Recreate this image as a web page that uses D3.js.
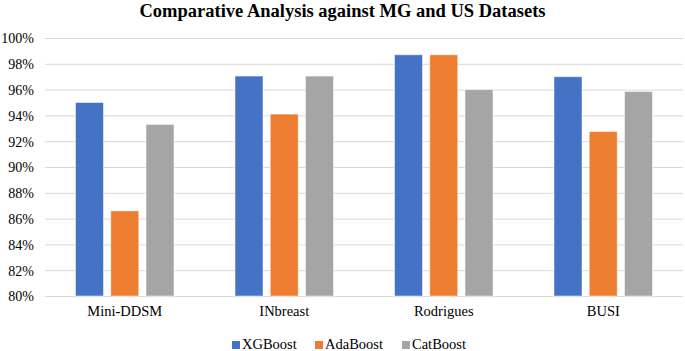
<!DOCTYPE html>
<html><head><meta charset="utf-8">
<script src="https://cdn.jsdelivr.net/npm/d3@7"></script>
<style>body{margin:0;background:#fff;} svg{display:block;}</style>
</head><body><svg id="c" width="685" height="351"></svg>
<script>
const categories = ["Mini-DDSM", "INbreast", "Rodrigues", "BUSI"];
const seriesNames = ["XGBoost", "AdaBoost", "CatBoost"];
const xgboost = [95.0, 97.05, 98.7, 97.0];
const adaboost = [86.6, 94.1, 98.7, 92.75];
const catboost = [93.3, 97.05, 96.0, 95.85];
const yTicks = [80, 82, 84, 86, 88, 90, 92, 94, 96, 98, 100];
const colors = ["#4472C4", "#ED7D31", "#A5A5A5"];
const title = "Comparative Analysis against MG and US Datasets";

(function () {
const seriesValues = [xgboost, adaboost, catboost];
const svg = d3.select("#c");
const font = "'Liberation Serif','Times New Roman',serif";
const pLeft = 45, pRight = 683, pTop = 38, pBottom = 296;

const x0 = d3.scaleBand().domain(categories).range([pLeft, pRight]);
const x1 = d3.scaleBand().domain(seriesNames).range([30.5, x0.bandwidth() - 30.5]).paddingInner(0.206);
const y = d3.scaleLinear().domain([80, 100]).range([pBottom, pTop]);

svg.append("g").selectAll("line").data(yTicks).join("line")
  .attr("x1", pLeft).attr("x2", pRight)
  .attr("y1", d => y(d) + 0.5).attr("y2", d => y(d) + 0.5)
  .attr("stroke", "#D9D9D9").attr("stroke-width", 1);

const yAxis = d3.axisLeft(y).tickValues(yTicks).tickSize(0).tickPadding(0)
  .tickFormat(d => d + "%");
const ga = svg.append("g").attr("transform", `translate(${pLeft - 11},0)`).call(yAxis);
ga.select(".domain").remove();
ga.selectAll("text").attr("font-family", font).attr("font-size", 14).attr("fill", "#000").attr("dy", "0.35em");

const groups = svg.append("g").selectAll("g").data(categories).join("g")
  .attr("transform", d => `translate(${x0(d)},0)`);
groups.selectAll("rect").data((c, i) => seriesNames.map((s, j) => ({s, j, v: seriesValues[j][i]})))
  .join("rect")
  .attr("x", d => x1(d.s)).attr("width", x1.bandwidth())
  .attr("y", d => y(d.v)).attr("height", d => y(80) - y(d.v))
  .attr("fill", d => colors[d.j])
  .attr("stroke", "#ffffff").attr("stroke-opacity", 0.5).attr("stroke-width", 1);

const xAxis = d3.axisBottom(x0).tickSize(0).tickPadding(0);
const gx = svg.append("g").attr("transform", `translate(0,${pBottom + 10})`).call(xAxis);
gx.select(".domain").remove();
gx.selectAll("text").attr("font-family", font).attr("font-size", 14.5).attr("fill", "#000").attr("dy", "0.71em");

svg.append("text").attr("x", 342.5).attr("y", 17).attr("text-anchor", "middle")
  .attr("font-family", font).attr("font-weight", "bold").attr("font-size", 18.5)
  .attr("fill", "#000").text(title);

const legendX = [232, 315, 402];
const lg = svg.append("g").selectAll("g").data(seriesNames).join("g")
  .attr("transform", (d, i) => `translate(${legendX[i]},0)`);
lg.append("rect").attr("x", 0).attr("y", 341).attr("width", 8).attr("height", 8)
  .attr("fill", (d, i) => colors[i]);
lg.append("text").attr("x", 10).attr("y", 348.5).attr("font-family", font).attr("font-size", 14.5)
  .attr("fill", "#000").text(d => d);
})();
</script></body></html>
